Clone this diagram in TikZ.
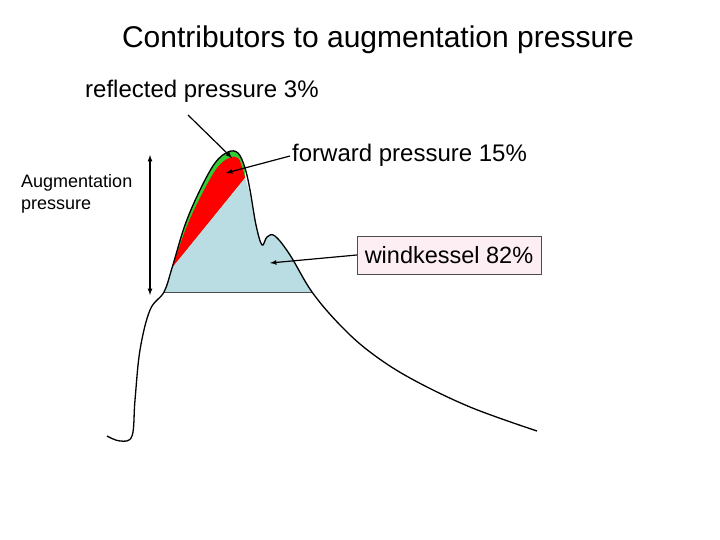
\documentclass[tikz,border=0pt]{standalone}
\usepackage{fontspec}
\setmainfont{Liberation Sans}
\definecolor{wkblue}{HTML}{B9DDE2}
\definecolor{wkpink}{HTML}{FDEEF3}
\begin{document}
\begin{tikzpicture}[x=1pt,y=-1pt,
  lbl/.style={inner sep=0pt,anchor=west},
  arr/.style={-latex,line width=1.2pt},
  wave/.style={line width=1.3pt}]
\useasboundingbox (0,0) rectangle (720,540);
% green layer
\fill[green!75!black!80] plot[smooth,tension=0.6] coordinates{(172,268)(185,225)(200,190)(215,163)(228,152)(238,153)(245,170)} -- (245,178) -- cycle;
% red
\fill[red] plot[smooth,tension=0.6] coordinates{(172,268)(187,226)(202,194)(217,168)(229,158)(238,158)(243,170)(245,178)} -- cycle;
% blue
\fill[wkblue] (164,292) -- (172,268) -- (245,178) -- plot[smooth,tension=0.6] coordinates{(245,178)(250,195)(256,225)(262,245)(267,237)(275,236)(290,255)(312,292)} -- cycle;
\draw[black!70,line width=0.6pt] (164,292) -- (312,292);
% outer waveform
\draw[wave] plot[smooth,tension=0.6] coordinates{(107,436)(120,441)(132,436)(135,400)(140,350)(150,310)(164,292)(172,268)(185,225)(200,190)(215,163)(228,152)(238,153)(245,168)(250,190)(256,225)(262,245)(267,237)(275,236)(290,255)(312,292)(340,325)(370,352)(410,378)(470,407)(537,431)};
% texts
\node[inner sep=0pt] (title) at (378,40) {\fontsize{30}{34}\selectfont Contributors to augmentation pressure};
\node[lbl] (refl) at (85,91) {\fontsize{24}{28}\selectfont reflected pressure 3\%};
\node[lbl] (fwd) at (292,155) {\fontsize{24}{28}\selectfont forward pressure 15\%};
\node[lbl,align=left,font=\fontsize{18}{22}\selectfont] (aug) at (21,194) {Augmentation\\pressure};
\node[draw=black!70,fill=wkpink,minimum width=184pt,minimum height=38pt,inner sep=0pt] (wk) at (449,255) {\fontsize{23.5}{28}\selectfont windkessel 82\%};
\coordinate (reflS) at (188,115); \coordinate (reflE) at (232,158);
\coordinate (fwdS) at (290,156); \coordinate (fwdE) at (226,173);
\coordinate (wkE) at (270,263);
\coordinate (augT) at (150,155); \coordinate (augB) at (150,295);
\draw[arr] (reflS) -- (reflE);
\draw[arr] (fwdS) -- (fwdE);
\draw[arr] (wk.west) -- (wkE);
\draw[latex-latex,line width=1.2pt] (augT) -- (augB);
\end{tikzpicture}
\end{document}
